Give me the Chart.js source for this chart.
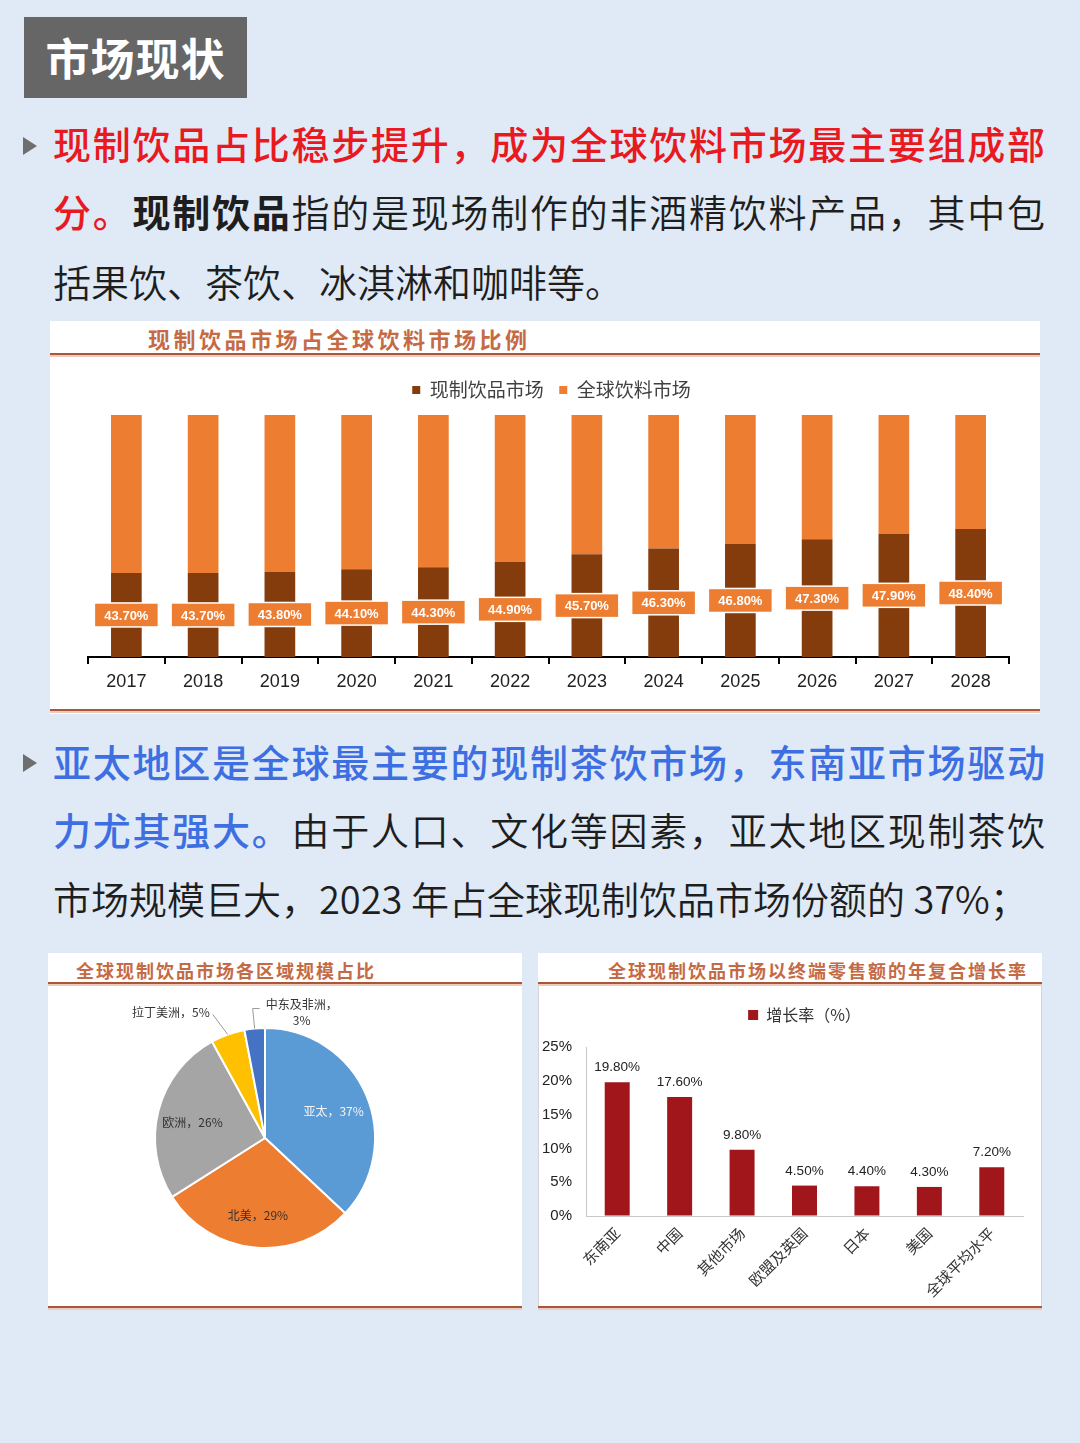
<!DOCTYPE html>
<html lang="zh-CN">
<head>
<meta charset="utf-8">
<title>市场现状</title>
<script src="https://cdn.jsdelivr.net/npm/chart.js@4.4.1/dist/chart.umd.min.js"></script>
<style>
body{margin:0;background:#dfeaf6;font-family:"Noto Sans CJK SC",sans-serif;}
#page{position:relative;width:1080px;height:1443px;overflow:hidden;}
.tag{position:absolute;left:24px;top:17px;width:223px;height:81px;background:#666;color:#fff;font-size:44px;font-weight:700;line-height:81px;text-align:center;letter-spacing:1px;}
.arrow{position:absolute;left:23px;width:0;height:0;border-left:14px solid #6e6e6e;border-top:9px solid transparent;border-bottom:9px solid transparent;}
.line{position:absolute;left:53px;width:992px;height:50px;line-height:50px;font-size:38px;font-weight:350;color:#1e1e1e;white-space:nowrap;}
.just{text-align:justify;text-align-last:justify;}
.red{color:#e8191f;font-weight:500;}
.blue{color:#3e6fe2;font-weight:500;}
.b{font-weight:700;}
.box{position:absolute;background:#fff;}
.ttl{position:absolute;color:#c46a45;font-weight:700;white-space:nowrap;}
.rule{position:absolute;height:2px;background:#a8583a;box-shadow:0 2px 0 #efc9b9;}
.frame{position:absolute;border-left:1px solid #d4d4d4;border-right:1px solid #d4d4d4;}
canvas{position:absolute;}
</style>
</head>
<body>
<div id="page">

<div class="tag">市场现状</div>

<div class="arrow" style="top:137px"></div>
<div class="line just" style="top:118px"><span class="red">现制饮品占比稳步提升，成为全球饮料市场最主要组成部</span></div>
<div class="line just" style="top:186px"><span class="red">分。</span><span class="b">现制饮品</span>指的是现场制作的非酒精饮料产品，其中包</div>
<div class="line" style="top:256px">括果饮、茶饮、冰淇淋和咖啡等。</div>

<div class="box" style="left:50px;top:321px;width:990px;height:393px"></div>
<div class="ttl" style="left:148px;top:322px;font-size:22px;line-height:32px;letter-spacing:3.5px">现制饮品市场占全球饮料市场比例</div>
<div class="rule" style="left:50px;top:353px;width:990px"></div>
<div class="rule" style="left:50px;top:709px;width:990px"></div>
<canvas id="shareChart" width="990" height="332" style="left:50px;top:365px"></canvas>

<div class="arrow" style="top:754px"></div>
<div class="line just" style="top:736px"><span class="blue">亚太地区是全球最主要的现制茶饮市场，东南亚市场驱动</span></div>
<div class="line just" style="top:804px"><span class="blue">力尤其强大。</span>由于人口、文化等因素，亚太地区现制茶饮</div>
<div class="line" style="top:873px">市场规模巨大，2023 年占全球现制饮品市场份额的 37%；</div>

<div class="box" style="left:48px;top:953px;width:474px;height:357px"></div>
<div class="ttl" style="left:76px;top:956px;font-size:18px;line-height:28px;letter-spacing:2px">全球现制饮品市场各区域规模占比</div>
<div class="rule" style="left:48px;top:982px;width:474px"></div>
<div class="rule" style="left:48px;top:1306px;width:474px"></div>
<canvas id="pieChart" width="474" height="315" style="left:48px;top:990px"></canvas>

<div class="box" style="left:538px;top:953px;width:504px;height:357px"></div>
<div class="frame" style="left:538px;top:985px;width:502px;height:321px"></div>
<div class="ttl" style="left:608px;top:956px;font-size:18px;line-height:28px;letter-spacing:2px">全球现制饮品市场以终端零售额的年复合增长率</div>
<div class="rule" style="left:538px;top:982px;width:504px"></div>
<div class="rule" style="left:538px;top:1306px;width:504px"></div>
<canvas id="growthChart" width="504" height="322" style="left:538px;top:983px"></canvas>

</div>

<script>
const years=["2017","2018","2019","2020","2021","2022","2023","2024","2025","2026","2027","2028"];
const freshShare=[43.7,43.7,43.8,44.1,44.3,44.9,45.7,46.3,46.8,47.3,47.9,48.4];
const otherShare=[56.3,56.3,56.2,55.9,55.7,55.1,54.3,53.7,53.2,52.7,52.1,51.6];
const shareAxisMin=34.7;
const shareAxisMax=60.6;

const regions=["亚太","北美","欧洲","拉丁美洲","中东及非洲"];
const regionShare=[37,29,26,5,3];

const markets=["东南亚","中国","其他市场","欧盟及英国","日本","美国","全球平均水平"];
const growth=[19.8,17.6,9.8,4.5,4.4,4.3,7.2];
const growthTicks=[0,5,10,15,20,25];

Chart.defaults.font.family="'Liberation Sans','Noto Sans CJK SC',sans-serif";
Chart.defaults.animation=false;
Chart.defaults.plugins.tooltip.enabled=false;

const cjk="'Noto Sans CJK SC'";

// fixed legend height (and optional sideways nudge) so the plot sits where the picture has it
const legendRoom={
id:"legendRoom",
afterInit(chart){
const legend=chart.legend;
const fit=legend.fit;
legend.fit=function(){
fit.call(this);
this.height=chart.options.plugins.legendRoom.height;
};
},
afterLayout(chart){
const shift=chart.options.plugins.legendRoom.shift||0;
chart.legend.left+=shift;
chart.legend.right+=shift;
}
};

// orange tag on every dark bar
const shareLabels={
id:"shareLabels",
afterDatasetsDraw(chart){
const ctx=chart.ctx;
ctx.save();
ctx.font="bold 13px 'Liberation Sans'";
ctx.textAlign="center";
ctx.textBaseline="middle";
chart.getDatasetMeta(0).data.forEach((bar,i)=>{
const p=bar.getCenterPoint();
ctx.fillStyle="#ed7d31";
ctx.strokeStyle="#fff";
ctx.lineWidth=1.5;
ctx.fillRect(p.x-32,p.y-12,64,24);
ctx.strokeRect(p.x-32,p.y-12,64,24);
ctx.fillStyle="#fff";
ctx.fillText(freshShare[i].toFixed(2)+"%",p.x,p.y+1);
});
ctx.restore();
}
};

new Chart(document.getElementById("shareChart"),{

type:"bar",

data:{
labels:years,
datasets:[
{label:"现制饮品市场",data:freshShare,backgroundColor:"#843c0c",base:shareAxisMin,clip:0},
{label:"全球饮料市场",data:otherShare,backgroundColor:"#ed7d31",clip:0}
]
},

options:{
responsive:false,
layout:{padding:{left:38,right:31}},
datasets:{bar:{barPercentage:0.4,categoryPercentage:1}},
scales:{
x:{
stacked:true,
grid:{drawOnChartArea:false,color:"#000",lineWidth:2,tickLength:7},
border:{color:"#000",width:2},
ticks:{color:"#222",font:{size:18},padding:7},
afterFit(s){s.height=40;}
},
y:{stacked:true,display:false,min:shareAxisMin,max:shareAxisMax}
},
plugins:{
legendRoom:{height:50,shift:3},
legend:{
labels:{boxWidth:8,boxHeight:8,padding:15.5,color:"#404040",font:{size:19,family:cjk}}
}
}
},

plugins:[legendRoom,shareLabels]

});

// pie labels, inside for big slices, leader lines for small ones
const pieLabels={
id:"pieLabels",
afterDatasetsDraw(chart){
const ctx=chart.ctx;
ctx.save();
ctx.font="12px "+cjk;
ctx.strokeStyle="#9a9a9a";
ctx.lineWidth=1;
chart.getDatasetMeta(0).data.forEach((arc,i)=>{
const mid=(arc.startAngle+arc.endAngle)/2;
const c=Math.cos(mid),s=Math.sin(mid);
const R=arc.outerRadius;
if(regionShare[i]>10){
const r=R*0.68;
ctx.fillStyle=i===0?"#f4f4f4":"#333";
ctx.textAlign="center";
ctx.textBaseline="middle";
ctx.fillText(regions[i]+"，"+regionShare[i]+"%",arc.x+c*r,arc.y+s*r+3);
return;
}
const ex=arc.x+c*R,ey=arc.y+s*R;
ctx.fillStyle="#333";
ctx.textBaseline="middle";
ctx.beginPath();
if(i===3){
ctx.moveTo(ex,ey);
ctx.lineTo(ex-15,ey-20);
ctx.stroke();
ctx.textAlign="right";
ctx.fillText(regions[i]+"，"+regionShare[i]+"%",ex-18,ey-22);
}else{
ctx.moveTo(ex,ey);
ctx.lineTo(ex-2,ey-20);
ctx.lineTo(ex+5,ey-20);
ctx.stroke();
ctx.textAlign="left";
ctx.fillText(regions[i]+"，",ex+11,ey-24);
ctx.textAlign="center";
ctx.fillText(regionShare[i]+"%",ex+47,ey-8);
}
});
ctx.restore();
}
};

new Chart(document.getElementById("pieChart"),{

type:"pie",

data:{
labels:regions,
datasets:[{
data:regionShare,
backgroundColor:["#5b9bd5","#ed7d31","#a5a5a5","#ffc000","#4472c4"],
borderColor:"#fff",
borderWidth:2
}]
},

options:{
responsive:false,
layout:{padding:{left:106,right:146,top:37,bottom:56}},
plugins:{legend:{display:false}}
},

plugins:[pieLabels]

});

const valueLabels={
id:"valueLabels",
afterDatasetsDraw(chart){
const ctx=chart.ctx;
ctx.save();
ctx.font="13.5px 'Liberation Sans'";
ctx.fillStyle="#222";
ctx.textAlign="center";
ctx.textBaseline="bottom";
chart.getDatasetMeta(0).data.forEach((bar,i)=>{
ctx.fillText(growth[i].toFixed(2)+"%",bar.x,bar.y-8);
});
ctx.restore();
}
};

new Chart(document.getElementById("growthChart"),{

type:"bar",

data:{
labels:markets,
datasets:[{
label:"增长率（%）",
data:growth,
backgroundColor:"#a0161b",
barPercentage:0.4,
categoryPercentage:1
}]
},

options:{
responsive:false,
layout:{padding:{right:19}},
scales:{
x:{
grid:{drawOnChartArea:false,drawTicks:false},
border:{color:"#c8c8c8",width:1},
ticks:{color:"#333",font:{size:15,family:cjk},minRotation:45,maxRotation:45,padding:8},
afterFit(s){s.height=89;}
},
y:{
min:growthTicks[0],
max:growthTicks[growthTicks.length-1],
afterBuildTicks(s){s.ticks=growthTicks.map(v=>({value:v}));},
grid:{drawOnChartArea:false,drawTicks:false},
border:{color:"#c8c8c8",width:1},
ticks:{color:"#222",font:{size:15},padding:14,callback:v=>v+"%"},
afterFit(s){s.width=48;}
}
},
plugins:{
legendRoom:{height:64,shift:24},
legend:{
labels:{boxWidth:10,boxHeight:10,padding:24,color:"#333",font:{size:16,family:cjk}}
}
}
},

plugins:[legendRoom,valueLabels]

});
</script>
</body>
</html>
